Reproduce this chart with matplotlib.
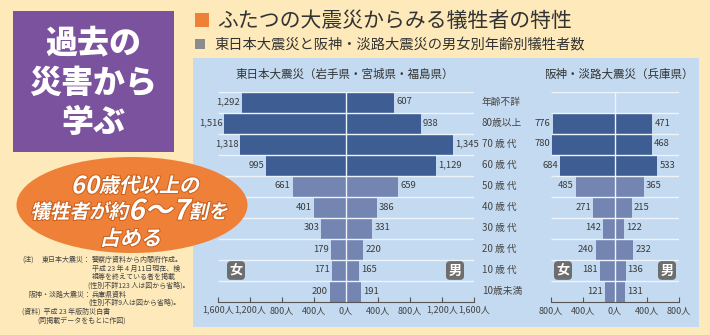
import matplotlib
matplotlib.use("Agg")
import matplotlib.pyplot as plt
import matplotlib.patheffects as pe
from matplotlib.patches import Rectangle, Ellipse, PathPatch
from matplotlib.textpath import TextPath
from matplotlib.font_manager import FontProperties
from matplotlib.transforms import Affine2D

plt.rcParams['font.family'] = ['Noto Sans CJK JP', 'DejaVu Sans']

# data
ages = ["年齢不詳", "80歳以上", "70 歳 代", "60 歳 代", "50 歳 代",
        "40 歳 代", "30 歳 代", "20 歳 代", "10 歳 代", "10歳未満"]
east_female = [1292, 1516, 1318, 995, 661, 401, 303, 179, 171, 200]
east_male = [607, 938, 1345, 1129, 659, 386, 331, 220, 165, 191]
hanshin_female = [0, 776, 780, 684, 485, 271, 142, 240, 181, 121]
hanshin_male = [0, 471, 468, 533, 365, 215, 122, 232, 136, 131]
east_ticks = [-1600, -1200, -800, -400, 0, 400, 800, 1200, 1600]
hanshin_ticks = [-800, -400, 0, 400, 800]

# (x, y, text, align)
notes = [
    (22, 260, "(注)", 'left'),
    (91, 260, "東日本大震災：", 'right'),
    (92, 260, "警察庁資料から内閣府作成。", 'left'),
    (92, 268.5, "平成 23 年 4 月11日現在、検", 'left'),
    (92, 277, "視等を終えている者を掲載", 'left'),
    (88, 285.5, "(性別不詳123 人は図から省略)。", 'left'),
    (91, 294.5, "阪神・淡路大震災：", 'right'),
    (92, 294.5, "兵庫県資料", 'left'),
    (88, 303, "(性別不詳9人は図から省略)。", 'left'),
    (22, 312, "(資料)  平成 23 年版防災白書", 'left'),
    (37, 320.5, "(同掲載データをもとに作図)", 'left'),
]

W, H = 710, 335
BG = '#fde9b9'
PANEL = '#c4daf0'
DARK = '#3d5d93'
LIGHT = '#7485b2'
ORANGE = '#ef8038'
TXT = '#3a3a3a'


def frac(x0, y0, x1, y1):
    return [x0 / W, 1 - y1 / H, (x1 - x0) / W, (y1 - y0) / H]


def draw_pyramid(ax, female, male, lim, ticks):
    n = len(female)
    ys = list(range(n))
    cols = [DARK if i < 4 else LIGHT for i in ys]
    ax.barh(ys, [-v for v in female], height=1.0, color=cols, zorder=2)
    ax.barh(ys, male, height=1.0, color=cols, zorder=2)
    for i in ys:
        if female[i]:
            ax.annotate(f"{female[i]:,}", (-female[i], i), xytext=(-1.5, 0),
                        textcoords='offset points', ha='right', va='center',
                        fontsize=6.8, color=TXT)
        if male[i]:
            ax.annotate(f"{male[i]:,}", (male[i], i), xytext=(1.5, 0),
                        textcoords='offset points', ha='left', va='center',
                        fontsize=6.8, color=TXT)
    ax.hlines([i - 0.5 for i in range(n)], -lim, lim, color='#eef4fb',
              lw=1.0, zorder=3)
    ax.axvline(0, color='#eef4fb', lw=1.0, zorder=3)
    ax.set_xlim(-lim, lim)
    ax.set_ylim(n - 0.5, -0.5)
    ax.set_xticks(ticks)
    ax.set_xticklabels([f"{abs(t):,}人" for t in ticks])
    ax.set_yticks([])
    for s in ['top', 'left', 'right']:
        ax.spines[s].set_visible(False)
    ax.spines['bottom'].set_color('#555555')
    ax.spines['bottom'].set_linewidth(0.8)
    ax.tick_params(axis='x', direction='in', length=3.5, width=0.8,
                   color='#555555', labelcolor='#444444', labelsize=6.5, pad=3)
    ax.patch.set_visible(False)


def slant_line(ax, cx, cy, parts, fp):
    paths = [TextPath((0, 0), s, size=sz, prop=fp) for s, sz in parts]
    widths = [p.get_extents().x1 for p in paths]
    total = sum(widths) + 1.0 * (len(parts) - 1)
    x = cx - total / 2
    base = max(sz for _, sz in parts)
    for p, w, (s, sz) in zip(paths, widths, parts):
        tr = (Affine2D().skew_deg(13, 0).scale(1, -1)
              .translate(x, cy + 0.36 * 20 + (0 if sz <= 21 else 0.05 * base))
              + ax.transData)
        patch = PathPatch(p, transform=tr, facecolor='white', edgecolor='none',
                          zorder=6)
        patch.set_path_effects([pe.Stroke(linewidth=1.4, foreground='#c9611f'),
                                pe.Normal()])
        ax.add_patch(patch)
        x += w + 1.0


fig = plt.figure(figsize=(W / 100, H / 100), dpi=100, facecolor=BG)

bg = fig.add_axes([0, 0, 1, 1])
bg.set_xlim(0, W)
bg.set_ylim(H, 0)
bg.axis('off')
bg.add_patch(Rectangle((193, 58), 506, 269, color=PANEL, lw=0))

# left header box
bg.add_patch(Rectangle((13, 11), 161, 141, color='#7b529e', lw=0))
for y, s in [(43, "過去の"), (83, "災害から"), (122, "学ぶ")]:
    bg.text(93.5, y, s, ha='center', va='center', fontsize=23,
            fontweight='heavy', color='white')

# titles
bg.add_patch(Rectangle((195, 13), 14, 14, color=ORANGE, lw=0))
bg.text(217, 20.5, "ふたつの大震災からみる犠牲者の特性", ha='left', va='center',
        fontsize=15, color='#333333')
bg.add_patch(Rectangle((195, 39), 10, 10, color='#8c8c8c', lw=0))
bg.text(214, 44.5, "東日本大震災と阪神・淡路大震災の男女別年齢別犠牲者数",
        ha='left', va='center', fontsize=10.3, color='#333333')
bg.text(236, 74, "東日本大震災（岩手県・宮城県・福島県）", ha='left', va='center',
        fontsize=8.3, color='#333333')
bg.text(544, 74, "阪神・淡路大震災（兵庫県）", ha='left', va='center',
        fontsize=8.3, color='#333333')

for x, y, s, al in notes:
    bg.text(x, y, s, ha=al, va='center', fontsize=5.0, color='#444444')

# pyramids
ax1 = fig.add_axes(frac(217.7, 91.5, 473.7, 301.5))
draw_pyramid(ax1, east_female, east_male, 1600, east_ticks)
ax2 = fig.add_axes(frac(550.7, 91.5, 678.7, 301.5))
draw_pyramid(ax2, hanshin_female, hanshin_male, 800, hanshin_ticks)

# overlay: age labels, badges, callout
fg = fig.add_axes([0, 0, 1, 1])
fg.set_xlim(0, W)
fg.set_ylim(H, 0)
fg.axis('off')
fg.patch.set_visible(False)

for i, s in enumerate(ages):
    fg.text(482, 102 + 21 * i, s, ha='left', va='center', fontsize=7,
            color='#444444')

for x, s in [(236, "女"), (455, "男"), (563, "女"), (667, "男")]:
    fg.text(x, 270.5, s, ha='center', va='center', fontsize=9.5,
            color='white', fontweight='bold',
            bbox=dict(boxstyle='round,pad=0.18,rounding_size=0.3',
                      fc='#6d6d6d', ec='none'))

fg.add_patch(Ellipse((132, 205), 231, 96, color=ORANGE, lw=0, zorder=5))
fp = FontProperties(family='Noto Sans CJK JP', weight='bold')
slant_line(fg, 134, 185, [("60", 24), ("歳代以上の", 20)], fp)
slant_line(fg, 128, 211, [("犠牲者が約", 19.5), ("6～7", 28), ("割を", 19.5)], fp)
slant_line(fg, 129, 238, [("占める", 20.5)], fp)

fig.savefig("out.png", dpi=100, facecolor=BG)
